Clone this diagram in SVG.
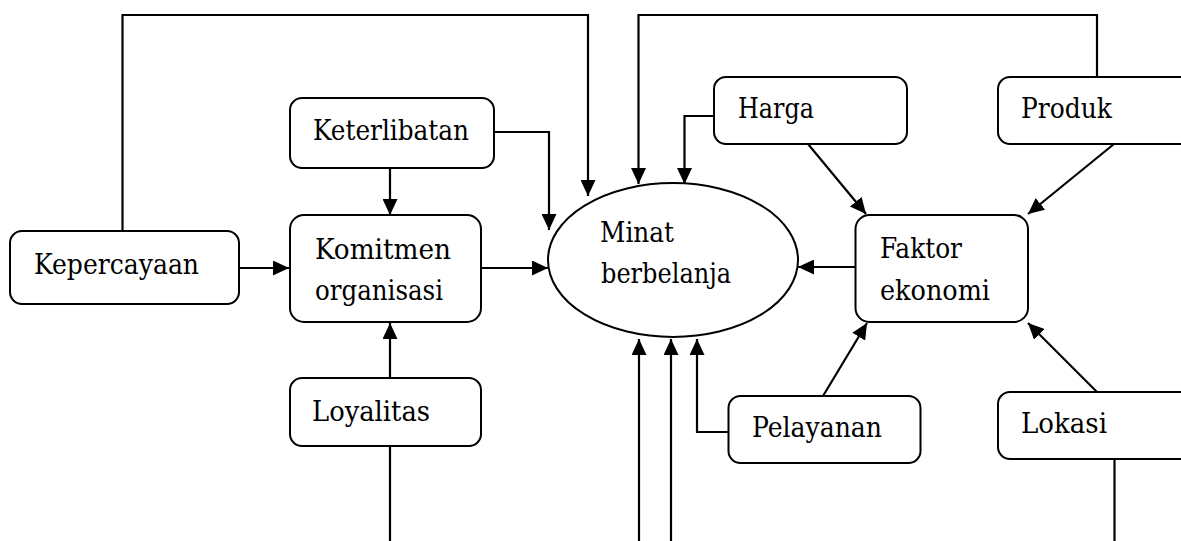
<svg xmlns="http://www.w3.org/2000/svg" width="1181" height="541" viewBox="0 0 1181 541">
<defs>
<marker id="ah" markerUnits="userSpaceOnUse" markerWidth="17" markerHeight="15" refX="16" refY="7.5" orient="auto">
<path d="M0,0 L16,7.5 L0,15 z" fill="#000"/>
</marker>
<style>
.box{fill:#fff;stroke:#000;stroke-width:2}
.t{font-family:'DejaVu Serif Condensed','DejaVu Serif',serif;font-size:28px;fill:#000}
.c{fill:none;stroke:#000;stroke-width:2.2}
.a{marker-end:url(#ah)}
</style>
</defs>
<rect width="1181" height="541" fill="#fff"/>
<g id="connectors">
<path class="c a" d="M122.5,231 V15 H588 V196"/>
<path class="c a" d="M1097,77 V15 H638.5 V184"/>
<path class="c a" d="M494,132 H549 V230"/>
<path class="c a" d="M390,168 V215"/>
<path class="c a" d="M239,268 H289"/>
<path class="c a" d="M481,268 H548"/>
<path class="c a" d="M714,116 H684.5 V184"/>
<path class="c a" d="M808,144 L866,214"/>
<path class="c a" d="M1114,144 L1028,214"/>
<path class="c a" d="M855,267 H798"/>
<path class="c a" d="M823,396 L867,323"/>
<path class="c a" d="M1097,392 L1028,323"/>
<path class="c a" d="M728.5,432 H697 V339"/>
<path class="c a" d="M639,541 V339"/>
<path class="c a" d="M671,541 V339"/>
<path class="c a" d="M390,378 V323"/>
<path class="c" d="M390,446 V541"/>
<path class="c" d="M1114.5,459 V541"/>
</g>
<g id="kepercayaan"><rect class="box" x="10" y="231" width="229" height="73" rx="12"/><text class="t" x="34" y="274" textLength="165" lengthAdjust="spacingAndGlyphs">Kepercayaan</text></g>
<g id="keterlibatan"><rect class="box" x="290" y="98" width="204" height="70" rx="12"/><text class="t" x="313" y="140" textLength="156" lengthAdjust="spacingAndGlyphs">Keterlibatan</text></g>
<g id="komitmen"><rect class="box" x="290" y="215" width="191" height="107" rx="14"/><text class="t" x="315" y="259" textLength="136" lengthAdjust="spacingAndGlyphs">Komitmen</text><text class="t" x="315" y="300" textLength="128" lengthAdjust="spacingAndGlyphs">organisasi</text></g>
<g id="loyalitas"><rect class="box" x="290" y="378" width="191" height="68" rx="12"/><text class="t" x="312" y="421" textLength="118" lengthAdjust="spacingAndGlyphs">Loyalitas</text></g>
<g id="minat"><ellipse class="box" cx="673" cy="260" rx="125" ry="77"/><text class="t" x="600" y="242" textLength="74" lengthAdjust="spacingAndGlyphs">Minat</text><text class="t" x="601" y="283" textLength="130" lengthAdjust="spacingAndGlyphs">berbelanja</text></g>
<g id="harga"><rect class="box" x="714" y="77" width="193" height="67" rx="12"/><text class="t" x="738" y="118" textLength="76" lengthAdjust="spacingAndGlyphs">Harga</text></g>
<g id="produk"><rect class="box" x="998" y="77" width="200" height="67" rx="12"/><text class="t" x="1021" y="118" textLength="91" lengthAdjust="spacingAndGlyphs">Produk</text></g>
<g id="faktor"><rect class="box" x="855.5" y="215" width="172.5" height="107" rx="14"/><text class="t" x="880" y="258" textLength="82" lengthAdjust="spacingAndGlyphs">Faktor</text><text class="t" x="880" y="300" textLength="110" lengthAdjust="spacingAndGlyphs">ekonomi</text></g>
<g id="pelayanan"><rect class="box" x="728.5" y="396" width="192" height="67" rx="12"/><text class="t" x="752" y="437" textLength="130" lengthAdjust="spacingAndGlyphs">Pelayanan</text></g>
<g id="lokasi"><rect class="box" x="998" y="392" width="200" height="67" rx="12"/><text class="t" x="1021" y="433" textLength="86" lengthAdjust="spacingAndGlyphs">Lokasi</text></g>
</svg>
